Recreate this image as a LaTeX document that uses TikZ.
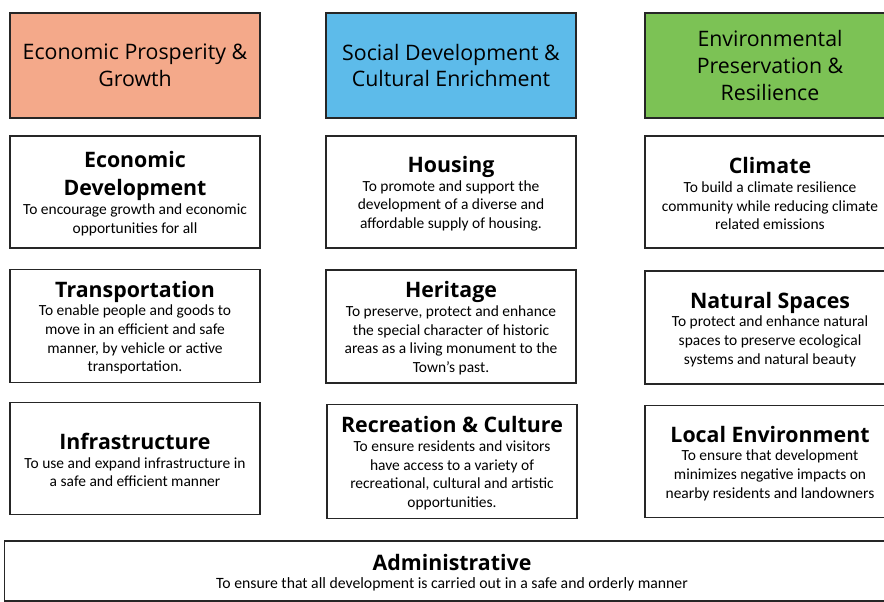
\documentclass[tikz,border=0pt]{standalone}
\usepackage{fontspec}
\setmainfont{Carlito}
\newfontfamily\headfont{Open Sans}

\definecolor{prosper}{HTML}{F4A98A}
\definecolor{social}{HTML}{5DBBEA}
\definecolor{environ}{HTML}{7CC255}

% title line with its own strut
\newcommand{\ttl}[1]{{\headfont\bfseries\fontsize{16}{20}\selectfont\rule[-5.3pt]{0pt}{20pt}#1}}

\tikzset{
  goalbox/.style={draw=black!85, line width=1.1pt, fill=white, align=center,
    minimum width=187.5pt, inner sep=2pt, font=\fontsize{11.6}{14}\selectfont},
  headbox/.style={goalbox, minimum height=78.75pt,
    font=\headfont\fontsize{16}{20}\selectfont},
}

\begin{document}
\begin{tikzpicture}[x=0.75pt,y=-0.75pt]
\useasboundingbox (0,0) rectangle (884,602);
\clip (0,0) rectangle (884,602);

% headers
\node[headbox,fill=prosper] (eco) at (135,65.5) {Economic Prosperity \&\\Growth};
\node[headbox,fill=social]  (soc) at (451,65.5) {Social Development \&\\Cultural Enrichment};
\node[headbox,fill=environ] (env) at (770,65.5) {Environmental\\Preservation \&\\Resilience};

% second row
\node[goalbox,minimum height=84pt] (ecodev) at (135,192)
  {\ttl{Economic}\\\ttl{Development}\\To encourage growth and economic\\opportunities for all};
\node[goalbox,minimum height=84pt] (housing) at (451,192)
  {\ttl{Housing}\\To promote and support the\\development of a diverse and\\affordable supply of housing.};
\node[goalbox,minimum height=84pt] (climate) at (770,192)
  {\ttl{Climate}\\To build a climate resilience\\community while reducing climate\\related emissions};

% third row
\node[goalbox,minimum height=84.75pt] (transp) at (135,326)
  {\ttl{Transportation}\\To enable people and goods to\\move in an efficient and safe\\manner, by vehicle or active\\transportation.};
\node[goalbox,minimum height=84.75pt] (heritage) at (451,326.5)
  {\ttl{Heritage}\\To preserve, protect and enhance\\the special character of historic\\areas as a living monument to the\\Town's past.};
\node[goalbox,minimum height=84.75pt] (natural) at (770,327.5)
  {\ttl{Natural Spaces}\\To protect and enhance natural\\spaces to preserve ecological\\systems and natural beauty};

% fourth row
\node[goalbox,minimum height=84pt] (infra) at (135,458.5)
  {\ttl{Infrastructure}\\To use and expand infrastructure in\\a safe and efficient manner};
\node[goalbox,minimum height=85.5pt] (recr) at (452,461.5)
  {\ttl{Recreation \& Culture}\\To ensure residents and visitors\\have access to a variety of\\recreational, cultural and artistic\\opportunities.};
\node[goalbox,minimum height=84pt] (localenv) at (770,461.5)
  {\ttl{Local Environment}\\To ensure that development\\minimizes negative impacts on\\nearby residents and landowners};

% bottom
\node[goalbox,minimum width=671pt,minimum height=45pt,
  font=\fontsize{11.8}{14}\selectfont] (admin) at (452,571)
  {\ttl{Administrative}\\To ensure that all development is carried out in a safe and orderly manner};

\end{tikzpicture}
\end{document}
